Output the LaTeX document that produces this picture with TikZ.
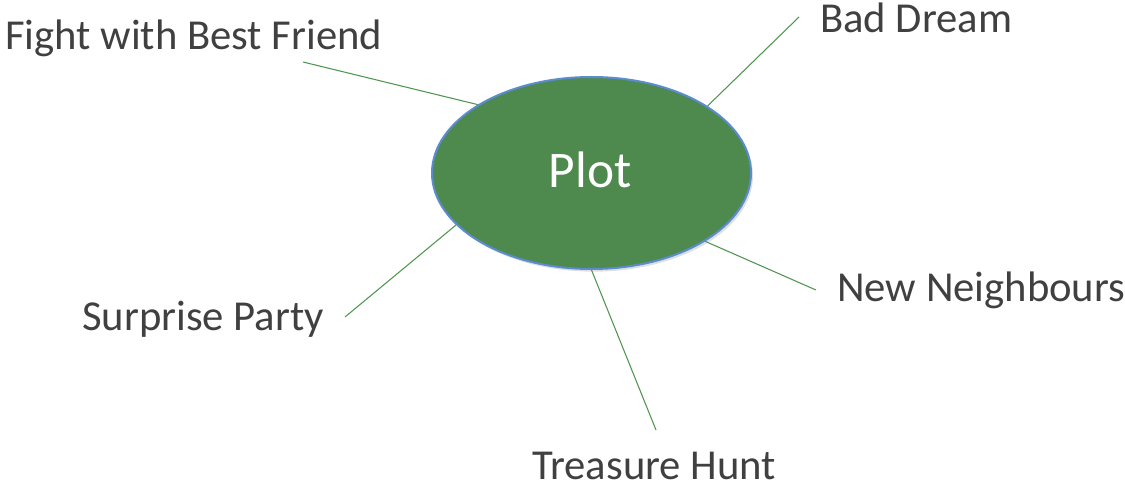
\documentclass[tikz,border=0pt]{standalone}
\usepackage{fontspec}
\setmainfont{Carlito}
\usetikzlibrary{shadows,shapes.geometric}
\definecolor{plotfill}{RGB}{78,137,78}
\definecolor{plotedge}{RGB}{91,139,208}
\definecolor{linkgreen}{RGB}{80,150,80}
\definecolor{labelgray}{RGB}{64,64,64}
\tikzset{
  hub/.style={ellipse, fill=plotfill, draw=plotedge, line width=1.5pt,
    minimum width=319*0.75pt, minimum height=192*0.75pt, inner sep=0pt,
    drop shadow={opacity=0.25, shadow xshift=1.5pt, shadow yshift=-2pt}},
  topic/.style={anchor=base west, inner sep=0pt, text=labelgray,
    font=\fontsize{32}{38}\selectfont},
  link/.style={draw=linkgreen, line width=0.8pt}
}
\begin{document}
\begin{tikzpicture}[x=0.75pt, y=0.75pt]
\useasboundingbox (0,0) rectangle (1125,489);
\node[hub] (plot) at (591.5,316) {};
\node[anchor=base, inner sep=0pt, text=white, font=\fontsize{38.5}{44}\selectfont] (plottext) at (590,301) {Plot};
\node[topic] (fight) at (5,439) {Fight with Best Friend};
\node[topic] (bad) at (820,456) {Bad Dream};
\node[topic] (surprise) at (82,158) {Surprise Party};
\node[topic] (treasure) at (532,9) {Treasure Hunt};
\node[topic] (neigh) at (837,187) {New Neighbours};
\coordinate (cf) at (303,427);
\coordinate (cb) at (799,472);
\coordinate (cs) at (345,172);
\coordinate (ct) at (656,59);
\coordinate (cn) at (816,199);
\draw[link] (plot.149.1) -- (cf);
\draw[link] (plot.30.6) -- (cb);
\draw[link] (plot.201.9) -- (cs);
\draw[link] (plot.270) -- (ct);
\draw[link] (plot.329.1) -- (cn);
\end{tikzpicture}
\end{document}
